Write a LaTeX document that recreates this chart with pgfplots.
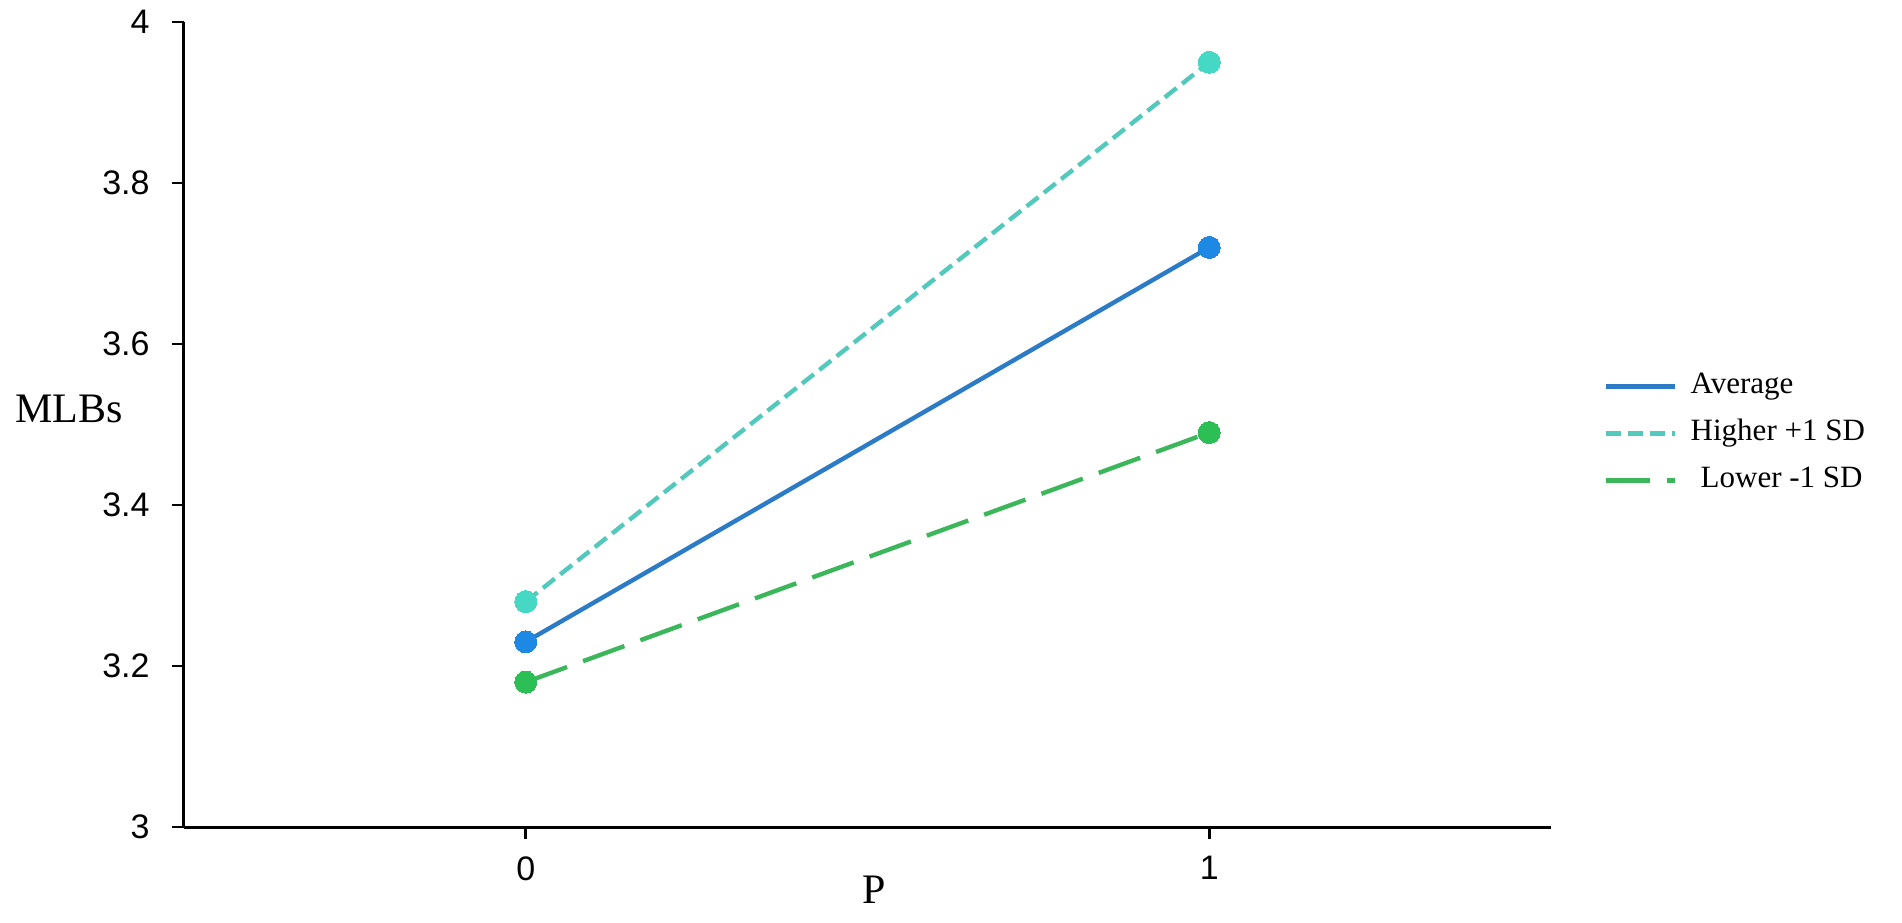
\documentclass[border=0pt]{standalone}
\usepackage{fontspec}
\setmainfont{Liberation Serif}
\newfontfamily\ticksfont{Liberation Sans}
\usepackage{pgfplots}
\usepackage{pgfplotstable}
\pgfplotsset{compat=1.18}

\definecolor{avgline}{HTML}{2B7BC6}
\definecolor{avgmark}{HTML}{1E88E5}
\definecolor{hiline}{HTML}{52C9BC}
\definecolor{himark}{HTML}{45D8C4}
\definecolor{loline}{HTML}{3CB65A}
\definecolor{lomark}{HTML}{2CBF55}

\pgfplotstableread{
x y
0 3.23
1 3.72
}\avgdata
\pgfplotstableread{
x y
0 3.28
1 3.95
}\hidata
\pgfplotstableread{
x y
0 3.18
1 3.49
}\lodata

\begin{document}
\begin{tikzpicture}
\path[use as bounding box] (-92pt,-47.5pt) rectangle (859pt,413.5pt);
\begin{axis}[
  at={(0pt,0pt)}, anchor=south west,
  scale only axis,
  width=683.5pt, height=402.5pt,
  xmin=-0.5, xmax=1.5, ymin=3, ymax=4,
  axis x line*=bottom, axis y line*=left,
  axis line style={line width=1.5pt, black},
  every tick/.style={line width=1.3pt, black},
  tick align=outside,
  major tick length=6pt,
  xtick={0,1}, ytick={3,3.2,3.4,3.6,3.8,4},
  yticklabels={3,3.2,3.4,3.6,3.8,4},
  xticklabels={0,1},
  ticklabel style={font=\ticksfont\fontsize{17}{19}\selectfont, inner sep=0pt},
  yticklabel style={xshift=-11pt},
  xticklabel style={yshift=-8.5pt},
  xlabel={P},
  ylabel={MLBs},
  label style={font=\fontsize{21}{24}\selectfont, inner sep=0pt},
  xlabel style={at={(axis description cs:0.505,-0.0609)}, anchor=north},
  ylabel style={rotate=-90, at={(axis description cs:-0.0447,0.519)}, anchor=east},
  legend style={
    at={(axis description cs:1.038,0.489)}, anchor=west,
    draw=none, fill=none, inner xsep=0pt, inner ysep=0pt,
    font=\fontsize{15.5}{18}\selectfont,
    nodes={inner sep=0pt, text height=11pt, text depth=3.5pt},
    row sep=9pt,
    /tikz/every odd column/.append style={column sep=7pt},
  },
  legend cell align=left,
  legend image code/.code={\draw[#1] (0pt,0pt) -- (34.5pt,0pt);},
  clip=false,
]
\addplot[avgline, line width=2.2pt, mark=*, mark size=5.5pt,
  mark options={solid, fill=avgmark, draw=avgmark, line width=0pt}] table {\avgdata};
\addlegendentry{Average}
\addplot[hiline, line width=2.2pt, dash pattern=on 7.5pt off 3.5pt, mark=*, mark size=5.5pt,
  mark options={solid, fill=himark, draw=himark, line width=0pt}] table {\hidata};
\addlegendentry{Higher +1 SD}
\addplot[loline, line width=2.2pt, dash pattern=on 22pt off 8.5pt, mark=*, mark size=5.5pt,
  mark options={solid, fill=lomark, draw=lomark, line width=0pt}] table {\lodata};
\addlegendentry{\hspace{5pt}Lower -1 SD}
\end{axis}
\end{tikzpicture}
\end{document}
